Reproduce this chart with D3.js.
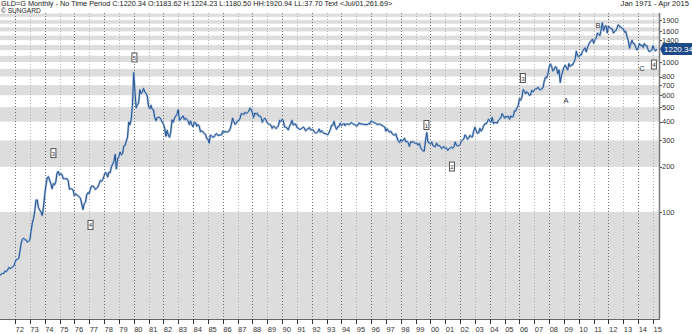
<!DOCTYPE html>
<html>
<head>
<meta charset="utf-8">
<script src="https://cdn.jsdelivr.net/npm/d3@7"></script>
<style>
  body { margin: 0; background: #fff; }
  text { font-family: "Liberation Sans", Arial, sans-serif; }
</style>
</head>
<body>
<div id="chart"></div>
<script>
// monthly closes, Jan 1971 onwards
var close1970s = [
  37.7, 38.7, 38.9, 39.0, 40.5, 40.1, 41.0, 42.7, 42.0, 42.5, 42.9, 43.6,
  46.0, 48.3, 48.3, 49.0, 54.6, 62.1, 65.7, 67.0, 65.5, 64.9, 62.9, 63.9,
  65.1, 74.2, 84.4, 90.5, 102.0, 120.1, 120.2, 106.8, 103.0, 100.1, 94.8, 106.7,
  129.2, 150.2, 168.4, 172.2, 163.3, 154.1, 143.0, 154.6, 151.8, 158.8, 181.7, 186.5,
  175.8, 180.0, 177.8, 167.0, 167.0, 166.3, 166.7, 162.0, 142.0, 142.9, 142.3, 140.3,
  128.2, 132.3, 129.6, 128.4, 126.0, 123.3, 112.5, 104.0, 114.0, 116.0, 130.3, 134.5,
  132.3, 142.8, 148.9, 149.0, 146.5, 141.0, 144.1, 146.3, 154.1, 161.9, 160.1, 165.0,
  173.2, 183.0, 181.6, 170.9, 184.3, 183.1, 200.3, 208.8, 218.1, 242.0, 194.0, 226.0,
  233.7, 251.3, 240.1, 245.3, 275.0, 277.5, 296.5, 315.1, 397.3, 382.0, 415.7, 512.0
];
var close1980s = [
  850.0, 637.0, 494.5, 518.0, 535.5, 653.0, 614.3, 631.3, 666.8, 629.0, 619.8, 589.8,
  506.5, 489.0, 513.8, 482.8, 479.3, 426.0, 406.0, 425.5, 428.8, 427.0, 414.5, 397.5,
  387.0, 362.6, 320.0, 350.2, 325.3, 315.0, 342.8, 411.5, 397.0, 423.3, 436.0, 448.0,
  481.0, 408.5, 414.8, 429.3, 437.5, 412.0, 422.0, 414.3, 405.0, 382.0, 405.0, 382.4,
  370.3, 395.0, 394.3, 373.0, 383.0, 373.0, 343.0, 348.0, 342.0, 333.5, 329.5, 309.0,
  306.7, 287.8, 325.3, 321.0, 315.0, 317.0, 327.0, 333.3, 324.0, 325.3, 325.8, 327.0,
  345.5, 339.3, 345.0, 340.5, 342.8, 346.0, 357.5, 384.7, 423.2, 401.0, 383.5, 390.9,
  405.0, 405.7, 421.3, 453.3, 451.0, 447.3, 462.5, 453.4, 459.5, 468.8, 492.5, 484.1,
  458.0, 426.2, 457.0, 449.0, 455.5, 436.6, 437.0, 427.8, 397.0, 412.0, 422.0, 410.2,
  394.0, 387.0, 383.2, 377.6, 361.0, 373.0, 368.3, 359.8, 366.5, 375.8, 408.8, 401.0
];
var close1990s = [
  415.1, 407.7, 368.5, 367.8, 363.0, 352.3, 372.6, 387.5, 408.4, 380.0, 384.9, 386.2,
  366.0, 362.7, 355.7, 357.6, 360.6, 368.4, 362.9, 347.4, 354.4, 358.0, 366.3, 353.2,
  354.1, 353.2, 341.7, 336.4, 337.5, 343.4, 357.8, 340.2, 349.0, 339.3, 334.2, 333.3,
  330.5, 327.6, 337.8, 354.3, 377.9, 378.5, 401.8, 372.0, 355.5, 369.6, 370.9, 391.8,
  377.9, 381.6, 389.8, 376.5, 387.6, 385.8, 384.0, 385.8, 394.9, 389.1, 383.1, 383.3,
  374.9, 376.4, 391.0, 389.8, 384.3, 387.1, 383.4, 382.4, 383.9, 382.7, 387.8, 387.0,
  405.0, 400.6, 396.4, 391.8, 390.6, 382.0, 385.3, 386.3, 379.0, 379.5, 371.3, 369.3,
  345.5, 358.6, 348.2, 340.1, 345.3, 334.6, 326.4, 325.4, 332.1, 311.4, 296.8, 290.2,
  303.9, 297.0, 301.0, 310.7, 293.6, 296.3, 288.9, 273.4, 293.9, 292.3, 294.7, 288.3,
  287.3, 287.7, 279.5, 286.6, 268.6, 261.3, 255.6, 254.8, 299.0, 338.0, 292.2, 290.3
];
var close2000s = [
  283.3, 293.7, 276.8, 275.1, 272.3, 288.2, 276.8, 277.0, 273.7, 264.5, 269.1, 272.7,
  265.6, 266.7, 257.7, 263.2, 267.5, 270.6, 266.0, 273.0, 293.1, 278.8, 275.5, 276.5,
  282.3, 296.9, 301.4, 308.2, 326.6, 318.5, 304.7, 312.8, 324.5, 316.9, 317.1, 347.2,
  367.5, 347.5, 334.9, 336.8, 361.4, 346.0, 354.8, 375.6, 388.0, 386.3, 398.4, 416.3,
  402.2, 396.9, 427.5, 388.5, 394.0, 395.5, 391.4, 408.0, 415.7, 428.0, 453.4, 438.0,
  422.2, 435.5, 427.5, 435.7, 414.5, 437.1, 429.0, 433.3, 473.3, 470.8, 495.7, 513.0,
  568.8, 556.0, 582.0, 654.0, 643.0, 613.5, 632.5, 623.5, 599.3, 603.8, 646.7, 632.0,
  650.5, 664.2, 661.8, 679.0, 659.1, 650.5, 665.5, 672.0, 743.0, 789.5, 783.5, 833.8,
  922.8, 971.5, 933.5, 871.0, 885.8, 930.3, 918.0, 833.0, 884.5, 730.8, 814.5, 869.8,
  919.5, 952.0, 916.5, 883.3, 975.5, 934.5, 955.5, 955.5, 995.8, 1040.0, 1179.5, 1096.5
];
var close2010s = [
  1081.0, 1116.5, 1113.3, 1179.3, 1212.5, 1244.0, 1169.0, 1246.0, 1307.0, 1357.0, 1385.0, 1421.0,
  1332.8, 1409.5, 1439.0, 1556.0, 1536.5, 1500.0, 1628.5, 1828.5, 1620.0, 1722.0, 1746.0, 1565.0,
  1738.0, 1697.0, 1668.0, 1664.0, 1559.0, 1604.0, 1622.0, 1692.5, 1772.0, 1720.0, 1713.5, 1675.0,
  1664.0, 1578.3, 1598.3, 1472.0, 1393.0, 1234.0, 1314.0, 1396.0, 1327.0, 1324.0, 1253.0, 1202.0,
  1240.0, 1326.5, 1284.0, 1296.0, 1250.5, 1327.0, 1282.0, 1287.0, 1210.0, 1172.0, 1183.0, 1199.0,
  1283.0, 1213.0, 1183.6, 1220.34
];
var firstYear = 1971;
var closes = close1970s.concat(close1980s, close1990s, close2000s, close2010s);

var priceTicks = [1900, 1600, 1400, 1000, 800, 700, 600, 500, 400, 300, 200, 100];
var yearTicks = ['72','73','74','75','76','77','78','79','80','81','82','83','84','85','86','87',
  '88','89','90','91','92','93','94','95','96','97','98','99','00','01','02','03','04','05','06',
  '07','08','09','10','11','12','13','14','15'];
var lastPrice = 1220.34;

// wave labels: [year, price, text]
var waveYears = [1974.59, 1977.09, 1980.05, 1999.73, 2001.45, 2006.23, 2015.06, 2009.13, 2011.29, 2014.25];
var wavePrices = [247, 82, 1072, 380, 201, 782, 962, 550, 1738, 912];
var waveTexts = ['3', '4', '5', '1', '2', '3', '4', 'A', 'B', 'C'];

var width = 692,
    height = 334,
    plotLeft = 0,
    plotRight = 659,
    plotTop = 13,
    plotBottom = 319;

var x = d3.scaleLinear().domain([1972, 2015]).range([15, 653]);
var y = d3.scaleLog().domain([100, 1000]).range([212, 62]);

var svg = d3.select('#chart').append('svg')
    .attr('width', width)
    .attr('height', height)
    .style('background', 'white');

svg.append('clipPath').attr('id', 'plot')
  .append('rect')
    .attr('x', plotLeft).attr('y', plotTop)
    .attr('width', plotRight - plotLeft).attr('height', plotBottom - plotTop);

var plot = svg.append('g').attr('clip-path', 'url(#plot)');

// gray bands for every other 100 interval
var bandStarts = d3.range(0, 2200, 200);
plot.selectAll('rect.band').data(bandStarts)
  .enter().append('rect')
    .attr('class', 'band')
    .attr('x', plotLeft)
    .attr('width', plotRight - plotLeft)
    .attr('y', function(d) { return y(d + 100); })
    .attr('height', function(d) {
        var bottom = d === 0 ? plotBottom : y(d);
        return bottom - y(d + 100);
    })
    .style('fill', '#dddddd');

// dotted year grid
plot.selectAll('line.grid').data(yearTicks)
  .enter().append('line')
    .attr('x1', function(d, i) { return Math.round(x(1972 + i)) + 0.5; })
    .attr('x2', function(d, i) { return Math.round(x(1972 + i)) + 0.5; })
    .attr('y1', plotTop)
    .attr('y2', plotBottom)
    .style('stroke', function(d, i) { return i % 2 ? '#b0b0b0' : '#6e6e6e'; })
    .style('stroke-width', 1)
    .style('stroke-dasharray', '1,2');

var line = d3.line()
    .x(function(d, i) { return x(firstYear + i / 12); })
    .y(function(d) { return y(d); });

plot.append('path').datum(closes)
    .attr('d', line)
    .style('fill', 'none')
    .style('stroke', '#a3bddb')
    .style('stroke-width', 2.2)
    .style('stroke-linejoin', 'round');

plot.append('path').datum(closes)
    .attr('d', line)
    .style('fill', 'none')
    .style('stroke', '#24528f')
    .style('stroke-width', 1);

// axes
svg.append('line')
    .attr('x1', plotRight + 0.5).attr('x2', plotRight + 0.5)
    .attr('y1', plotTop).attr('y2', plotBottom)
    .style('stroke', '#777').style('stroke-width', 1.5);

svg.append('line')
    .attr('x1', plotLeft).attr('x2', plotRight + 1)
    .attr('y1', plotBottom + 0.5).attr('y2', plotBottom + 0.5)
    .style('stroke', '#666').style('stroke-width', 1);

svg.selectAll('line.ytick').data(priceTicks)
  .enter().append('line')
    .attr('x1', plotRight + 1).attr('x2', plotRight + 3)
    .attr('y1', function(d) { return Math.round(y(d)) + 0.5; })
    .attr('y2', function(d) { return Math.round(y(d)) + 0.5; })
    .style('stroke', '#555');

svg.selectAll('text.ylabel').data(priceTicks)
  .enter().append('text')
    .text(function(d) { return d; })
    .attr('x', plotRight + 3)
    .attr('y', function(d) { return y(d) + 2.5; })
    .style('font-size', '7.5px')
    .style('fill', '#333');

svg.selectAll('line.xtick').data(yearTicks)
  .enter().append('line')
    .attr('x1', function(d, i) { return Math.round(x(1972 + i)) + 0.5; })
    .attr('x2', function(d, i) { return Math.round(x(1972 + i)) + 0.5; })
    .attr('y1', plotBottom)
    .attr('y2', plotBottom + 5)
    .style('stroke', '#333');

svg.selectAll('text.xlabel').data(yearTicks)
  .enter().append('text')
    .text(function(d) { return d; })
    .attr('x', function(d, i) { return x(1972 + i) + 0.5; })
    .attr('y', 332)
    .style('font-size', '7.5px')
    .style('fill', '#333');

// last price tag
var tag = svg.append('g').attr('transform', 'translate(' + (plotRight + 1) + ',' + y(lastPrice) + ')');
tag.append('path')
    .attr('d', 'M0,0 L3,-6 L33,-6 L33,6 L3,6 Z')
    .style('fill', '#1e4a86');
tag.append('text')
    .text(lastPrice.toFixed(2))
    .attr('x', 4)
    .attr('y', 3)
    .style('font-size', '8px')
    .style('fill', 'white');

// wave labels
waveTexts.forEach(function(t, i) {
    var cx = x(waveYears[i]), cy = y(wavePrices[i]);
    var boxed = /[0-9]/.test(t);
    if (boxed) {
        svg.append('rect')
            .attr('x', cx - 2.5).attr('y', cy - 4.5)
            .attr('width', 5).attr('height', 9)
            .style('fill', 'white')
            .style('stroke', '#555').style('stroke-width', 1);
    }
    svg.append('text')
        .text(t)
        .attr('x', cx)
        .attr('y', cy + 2.5)
        .attr('text-anchor', 'middle')
        .style('font-size', boxed ? '6px' : '7.5px')
        .style('fill', '#333');
});

// header
svg.append('text')
    .text('GLD=G Monthly  -  No Time Period   C:1220.34 O:1183.62 H:1224.23 L:1180.50 HH:1920.94 LL:37.70 Text <Jul/01,261.69>')
    .attr('x', 1)
    .attr('y', 5.8)
    .style('font-size', '7.3px')
    .style('fill', '#222');

svg.append('text')
    .text('\u00a9 SUNGARD')
    .attr('x', 1)
    .attr('y', 13.2)
    .style('font-size', '6.6px')
    .style('fill', '#222');

svg.append('text')
    .text('Jan 1971  -  Apr 2015')
    .attr('x', 689)
    .attr('y', 5.8)
    .attr('text-anchor', 'end')
    .style('font-size', '7.6px')
    .style('fill', '#222');
</script>
</body>
</html>
